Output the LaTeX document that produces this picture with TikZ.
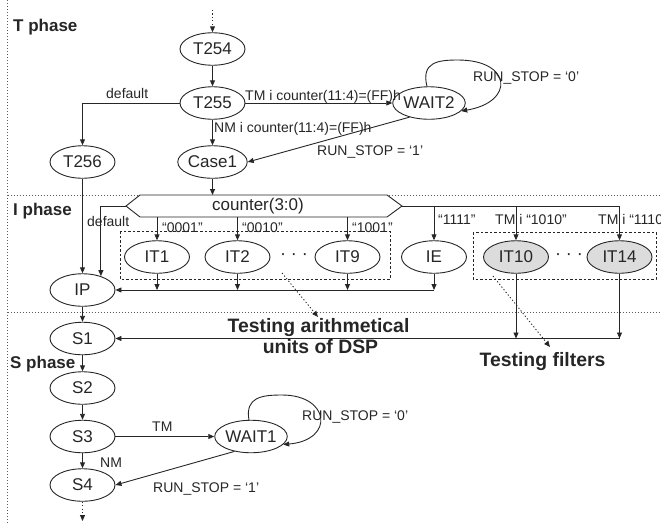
\documentclass[tikz,border=0pt]{standalone}
\usepackage{fontspec}
\setmainfont{Liberation Sans}
\usetikzlibrary{shapes.geometric,arrows.meta}
\definecolor{ink}{HTML}{262626}
\definecolor{shade}{HTML}{DCDCDC}

\begin{document}
\begin{tikzpicture}[x=1pt,y=-1pt,
  state/.style={ellipse,draw=ink,line width=0.9pt,minimum width=65pt,minimum height=32.5pt,
    inner sep=0pt,font=\fontsize{17}{19}\selectfont,text=ink},
  filtstate/.style={state,fill=shade},
  arr/.style={draw=ink,line width=0.9pt,-{Triangle[length=6pt,width=5pt]}},
  wire/.style={draw=ink,line width=0.9pt},
  lbl/.style={font=\fontsize{14}{16}\selectfont,text=ink,inner sep=0pt,anchor=base west},
  phase/.style={font=\bfseries\fontsize{17}{19}\selectfont,text=ink,inner sep=0pt,anchor=base west},
  note/.style={font=\bfseries\fontsize{19.4}{22}\selectfont,text=ink,inner sep=0pt,anchor=base},
  sep/.style={draw=ink!75,line width=0.9pt,dash pattern=on 1pt off 2pt},
  group/.style={draw=ink,line width=0.9pt,dash pattern=on 2.5pt off 2pt},
  hint/.style={draw=ink,line width=0.9pt,dash pattern=on 1.2pt off 2.2pt,-{Triangle[length=6pt,width=5pt]}},
  dots/.style={font=\fontsize{18}{20}\selectfont,text=ink,inner sep=0pt},
]
\useasboundingbox (0,0) rectangle (661,523);

% phase separators
\draw[sep] (7.5,0) -- (7.5,523);
\draw[sep] (7.5,195) -- (661,195);
\draw[sep] (7.5,312) -- (661,312);

\node[phase] (tphase) at (13,31.5) {T phase};
\node[phase] (iphase) at (13,215) {I phase};
\node[phase] (sphase) at (10,368) {S phase};

% ---------- T phase ----------
\node[state] (T254)  at (212.5,49)  {T254};
\node[state] (T255)  at (212.5,103) {T255};
\node[state] (T256)  at (82.5,162)  {T256};
\node[state] (Case1) at (212.5,162) {Case1};
\node[state] (WAIT2) at (429,103)   {WAIT2};

\coordinate (entry) at (212.5,10);
\draw[hint] (entry) -- (T254);
\draw[arr] (T254) -- (T255);
\draw[arr] (T255.west) -| (T256.north);
\draw[arr] (T255) -- (Case1);
\draw[arr] (T255.east) -- (WAIT2.west);
\draw[arr] (WAIT2.216) -- (Case1.east);
\draw[arr] (WAIT2.97) .. controls (421,62) and (438,60) .. (458,60)
  .. controls (512,60) and (515,102) .. (WAIT2.-14);

\node[lbl] (ldef1) at (106,98)  {default};
\node[lbl] (ltm2)  at (245,100) {TM i counter(11:4)=(FF)h};
\node[lbl] (lnm2)  at (214,132.5) {NM i counter(11:4)=(FF)h};
\node[lbl] (lrs21) at (317,155) {RUN\_STOP = ‘1’};
\node[lbl] (lrs20) at (473,81)  {RUN\_STOP = ‘0’};

% ---------- I phase ----------
\draw[group] (120,231) rectangle (390,279);
\draw[group] (473,232) rectangle (656,279);

\draw[wire,fill=white] (126,206) -- (140,195) -- (387,195) -- (402,206)
  -- (387,217) -- (140,217) -- cycle;
\coordinate (cw) at (126,206);
\coordinate (ce) at (402,206);
\coordinate (ctop) at (212.5,195);
\coordinate (cbot) at (212.5,217);
\node[font=\fontsize{17}{19}\selectfont,text=ink,inner sep=0pt] (counter) at (258,206) {counter(3:0)};

\node[state] (IT1)  at (157,257)   {IT1};
\node[state] (IT2)  at (237.5,257) {IT2};
\node[state] (IT9)  at (347.5,257) {IT9};
\node[state] (IE)   at (434,257)   {IE};
\node[filtstate] (IT10) at (516,257)   {IT10};
\node[filtstate] (IT14) at (619.5,257) {IT14};
\node[dots] (gap1) at (294,257) {· · ·};
\node[dots] (gap2) at (569,257) {· · ·};

\node[state] (IP) at (82.5,290) {IP};

\draw[arr] (Case1) -- (ctop);
\draw[arr] (IT1 |- cbot) -- (IT1);
\draw[arr] (IT2 |- cbot) -- (IT2);
\draw[arr] (IT9 |- cbot) -- (IT9);
\draw[wire] (ce) -- (IT14 |- ce);
\draw[arr] (IE |- ce) -- (IE);
\draw[arr] (IT10 |- ce) -- (IT10);
\draw[arr] (IT14 |- ce) -- (IT14);
\draw[arr] (cw) -| (IP.37);
\draw[arr] (T256) -- (IP);

\draw[arr] (IT1) -- (IT1 |- IP);
\draw[arr] (IT2) -- (IT2 |- IP);
\draw[arr] (IT9) -- (IT9 |- IP);
\draw[arr] (IE) -- (IE |- IP);
\draw[arr] (IE |- IP) -- (IP.east);

\node[lbl] (ldef2) at (87,226)    {default};
\node[lbl] (l0001) at (162,232)   {“0001”};
\node[lbl] (l0010) at (242,232)   {“0010”};
\node[lbl] (l1001) at (352,232)   {“1001”};
\node[lbl] (l1111) at (438,224)   {“1111”};
\node[lbl] (l1010) at (495,224)   {TM i “1010”};
\node[lbl] (l1110) at (598,224)   {TM i “1110”};

% ---------- S phase ----------
\node[state] (S1) at (82.5,338.5) {S1};
\node[state] (S2) at (82.5,388)   {S2};
\node[state] (S3) at (82.5,436.5) {S3};
\node[state] (S4) at (82.5,485)   {S4};
\node[state] (WAIT1) at (251,436.5) {WAIT1};

\draw[arr] (IT10) -- (IT10 |- S1);
\draw[arr] (IT14) -- (IT14 |- S1);
\draw[arr] (IT14 |- S1) -- (S1.east);

\draw[arr] (IP) -- (S1);
\draw[arr] (S1) -- (S2);
\draw[arr] (S2) -- (S3);
\draw[arr] (S3) -- (S4);
\draw[arr] (S3) -- (WAIT1);
\draw[arr] (WAIT1.222) -- (S4.east);
\draw[arr] (WAIT1.97) .. controls (245,397) and (262,395) .. (282,395)
  .. controls (330,395) and (335,440) .. (WAIT1.-14);
\coordinate (exit) at (82.5,521);
\draw[hint] (S4) -- (exit);

\node[lbl] (ltm1)  at (152,431) {TM};
\node[lbl] (lnm1)  at (100,467) {NM};
\node[lbl] (lrs11) at (153,492) {RUN\_STOP = ‘1’};
\node[lbl] (lrs10) at (302,420) {RUN\_STOP = ‘0’};

% ---------- annotations ----------
\node[note] (arith)   at (318.5,332) {Testing arithmetical};
\node[note] (dsp)     at (320.5,353) {units of DSP};
\node[note] (filters) at (542.5,366) {Testing filters};

\coordinate (h1) at (282,273);
\coordinate (h1e) at (318,317);
\coordinate (h2) at (493,276);
\coordinate (h2e) at (550,347);
\draw[hint] (h1) -- (h1e);
\draw[hint] (h2) -- (h2e);
\end{tikzpicture}
\end{document}
